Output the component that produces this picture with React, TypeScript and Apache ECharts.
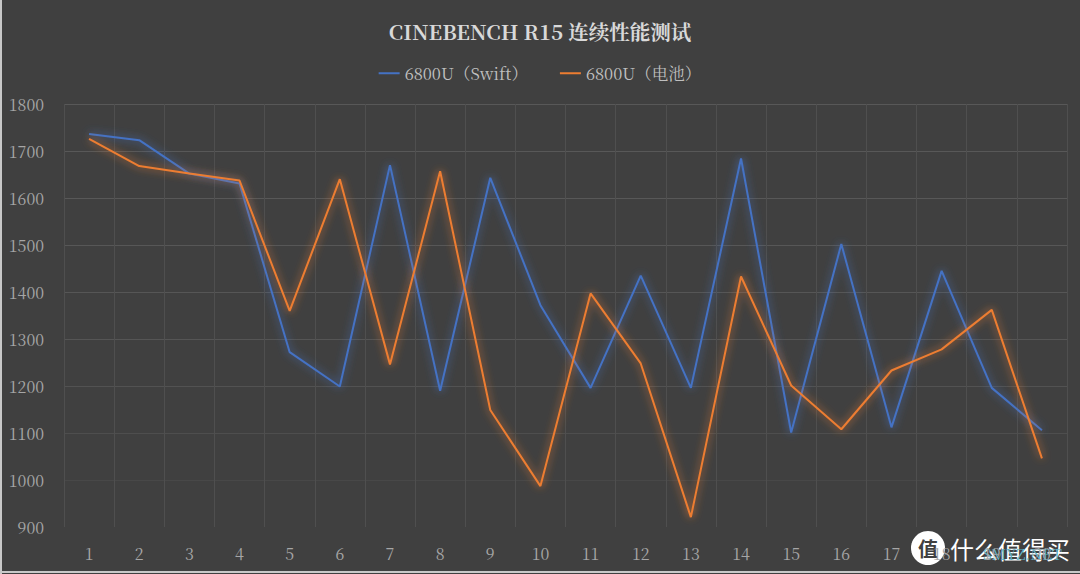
import React, { useEffect, useRef } from "react";
import * as echarts from "echarts";

const TITLE = "CINEBENCH R15 连续性能测试";
const categories = ["1","2","3","4","5","6","7","8","9","10","11","12","13","14","15","16","17","18","19","20"];
const seriesNames = ["6800U（Swift）", "6800U（电池）"];
const swiftValues = [1736, 1723, 1652, 1631, 1272, 1199, 1670, 1190, 1643, 1372, 1196, 1435, 1196, 1684, 1101, 1502, 1112, 1445, 1196, 1106];
const batteryValues = [1726, 1668, 1652, 1637, 1360, 1640, 1246, 1657, 1149, 987, 1397, 1248, 921, 1433, 1201, 1108, 1233, 1278, 1362, 1046];
const yMin = 900;
const yMax = 1800;
const yStep = 100;

const SERIF = "'Noto Serif CJK SC', 'Liberation Serif', 'DejaVu Serif', serif";

export default function App() {
  const ref = useRef<HTMLDivElement>(null);
  useEffect(() => {
    document.body.style.margin = "0";
    const chart = echarts.init(ref.current!, null, { renderer: "svg" });
    const colors = ["#4472c4", "#ed7d31"];
    const values = [swiftValues, batteryValues];
    chart.setOption({
      animation: false,
      backgroundColor: "#404040",
      title: {
        text: TITLE,
        left: "center",
        top: 16,
        textStyle: { color: "#d9d9d9", fontSize: 20.5, fontWeight: "bold", fontFamily: SERIF },
      },
      legend: {
        top: 60,
        left: "center",
        itemWidth: 21,
        itemHeight: 2,
        itemGap: 32,
        textStyle: { color: "#bfbfbf", fontSize: 16.5, fontFamily: SERIF },
        data: seriesNames.map((n, i) => ({ name: n, icon: "rect", itemStyle: { color: colors[i] } })),
      },
      grid: { left: 64, right: 13, top: 104, bottom: 47, containLabel: false },
      xAxis: {
        type: "category",
        data: categories,
        boundaryGap: true,
        axisLine: { show: false },
        axisTick: { show: false },
        axisLabel: { color: "#a6a6a6", fontSize: 16, fontFamily: SERIF, margin: 18 },
        splitLine: { show: true, lineStyle: { color: "#4f4f4f", width: 1 } },
      },
      yAxis: {
        type: "value",
        min: yMin,
        max: yMax,
        interval: yStep,
        axisLine: { show: false },
        axisTick: { show: false },
        axisLabel: {
          color: "#a6a6a6",
          fontSize: 16,
          fontFamily: SERIF,
          margin: 20,
          formatter: (v: number) => String(v),
        },
        splitLine: {
          show: true,
          lineStyle: {
            color: ["#404040", "#484848", "#4e4e4e", "#525252", "#555555", "#565656", "#575757", "#585858", "#585858", "#585858"],
            width: 1,
          },
        },
      },
      series: seriesNames.map((n, i) => ({
        name: n,
        type: "line",
        data: values[i],
        symbol: "none",
        lineStyle: {
          color: colors[i],
          width: 2,
          shadowColor: colors[i],
          shadowBlur: 8,
        },
        itemStyle: { color: colors[i] },
      })),
      graphic: [
        {
          type: "line",
          shape: { x1: 1, y1: 0, x2: 1, y2: 574 },
          style: { stroke: "#c8c8c8", lineWidth: 2 },
        },
        {
          type: "line",
          shape: { x1: 0, y1: 572, x2: 1080, y2: 572 },
          style: { stroke: "#c8c8c8", lineWidth: 2 },
        },
        {
          type: "circle",
          shape: { cx: 928, cy: 548, r: 17 },
          style: { fill: "#ffffff" },
        },
        {
          type: "text",
          x: 928,
          y: 548,
          style: {
            text: "值",
            fill: "#404040",
            fontSize: 20,
            fontWeight: "bold",
            fontFamily: "'Noto Sans CJK SC', sans-serif",
            align: "center",
            verticalAlign: "middle",
          },
        },
        {
          type: "text",
          x: 950,
          y: 548,
          style: {
            text: "什么值得买",
            fill: "#ffffff",
            fontSize: 24,
            fontFamily: "'Noto Sans CJK SC', sans-serif",
            verticalAlign: "middle",
          },
        },
        {
          type: "text",
          x: 983,
          y: 553,
          style: {
            text: "SMYZ.NET",
            fill: "#5fb3c9",
            fontSize: 15,
            fontFamily: SERIF,
            verticalAlign: "middle",
          },
        },
      ],
    });
    return () => chart.dispose();
  }, []);
  return <div ref={ref} style={{ width: 1080, height: 574 }} />;
}
